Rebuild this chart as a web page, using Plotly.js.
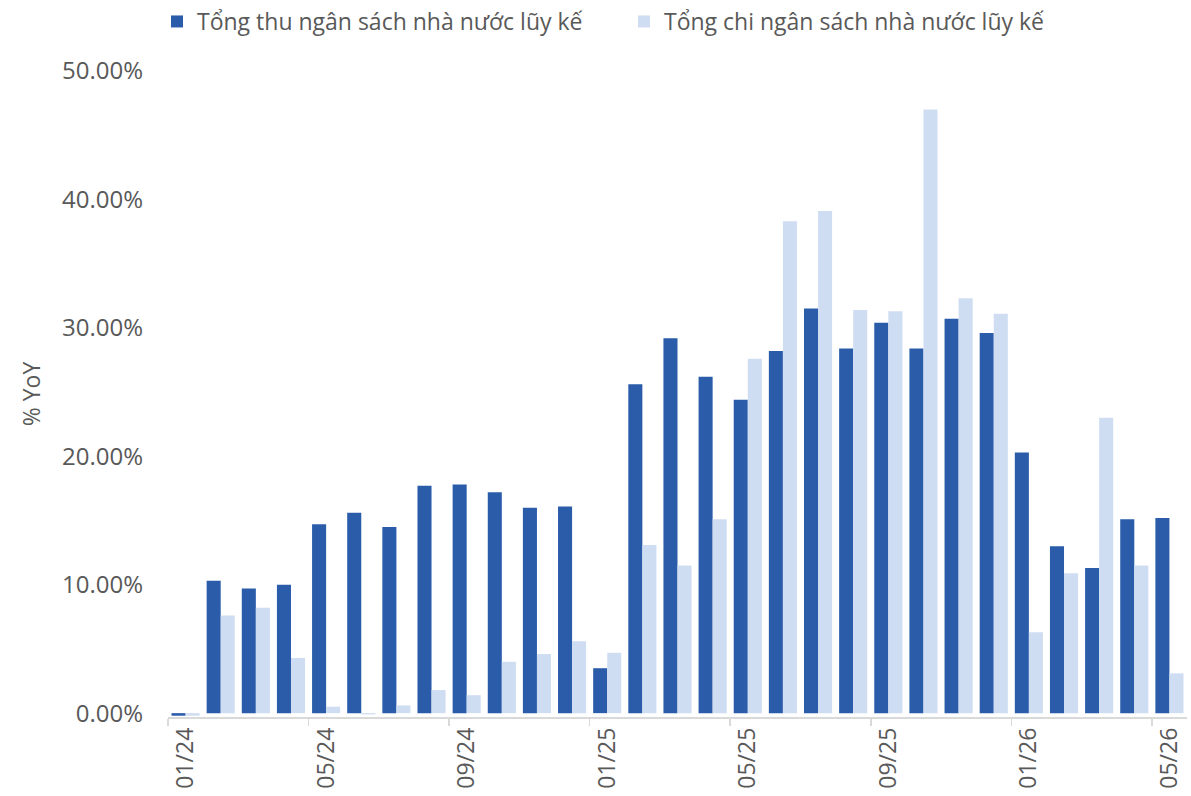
<!DOCTYPE html>
<html>
<head>
<meta charset="utf-8">
<script src="https://cdn.plot.ly/plotly-3.0.1.min.js"></script>
<style>html,body{margin:0;padding:0;background:#fff}#chart{width:1191px;height:796px}</style>
</head>
<body>
<div id="chart"></div>
<script>
const months = ["01/24","02/24","03/24","04/24","05/24","06/24","07/24","08/24","09/24","10/24","11/24","12/24",
  "01/25","02/25","03/25","04/25","05/25","06/25","07/25","08/25","09/25","10/25","11/25","12/25",
  "01/26","02/26","03/26","04/26","05/26"];
const revenueYoY = [-0.2,10.3,9.7,10.0,14.7,15.6,14.5,17.7,17.8,17.2,16.0,16.1,
  3.5,25.6,29.2,26.2,24.4,28.2,31.5,28.4,30.4,28.4,30.7,29.6,
  20.3,13.0,11.3,15.1,15.2];
const spendingYoY = [-0.2,7.6,8.2,4.3,0.5,-0.1,0.6,1.8,1.4,4.0,4.6,5.6,
  4.7,13.1,11.5,15.1,27.6,38.3,39.1,31.4,31.3,47.0,32.3,31.1,
  6.3,10.9,23.0,11.5,3.1];
const seriesNames = ["Tổng thu ngân sách nhà nước lũy kế","Tổng chi ngân sách nhà nước lũy kế"];
const labelEvery = 4;

const idx = months.map((m,i)=>i);
const tickIdx = idx.filter(i => i % labelEvery === 0);

const FONT = "Open Sans, Noto Sans, sans-serif";
const GREY = "#595959";

const traces = [
  {type:"bar", name:seriesNames[0], x:idx, y:revenueYoY.map(v=>v/100), text:months, textposition:"none",
   legend:"legend",
   marker:{color:"#2a5caa", line:{width:0}}, hovertemplate:"%{text}: %{y:.2%}<extra></extra>"},
  {type:"bar", name:seriesNames[1], x:idx, y:spendingYoY.map(v=>v/100), text:months, textposition:"none",
   legend:"legend2",
   marker:{color:"#cfddf2", line:{width:0}}, hovertemplate:"%{text}: %{y:.2%}<extra></extra>"}
];

const legendBase = {orientation:"h", xanchor:"left", xref:"container", y:1, yanchor:"top", yref:"container",
  font:{size:23, color:GREY, family:FONT}, bgcolor:"rgba(0,0,0,0)", borderwidth:0};

const layout = {
  width:1191, height:796,
  margin:{l:168, r:4, t:71, b:79, autoexpand:false},
  paper_bgcolor:"#fff", plot_bgcolor:"#fff",
  font:{family:FONT, color:GREY, size:22},
  barmode:"group", bargap:0.2, bargroupgap:0,
  showlegend:true,
  legend:Object.assign({}, legendBase, {x:157/1191}),
  legend2:Object.assign({}, legendBase, {x:624/1191}),
  xaxis:{
    type:"linear", range:[-0.5, months.length-0.5],
    tickmode:"array", tickvals:tickIdx, ticktext:tickIdx.map(i=>months[i]),
    tickangle:-90, ticks:"", showgrid:false, zeroline:false,
    showline:true, linecolor:"#d9d9d9", linewidth:1.5,
    tickfont:{size:23, color:GREY},
    minor:{tickmode:"linear", tick0:-0.5, dtick:labelEvery, ticks:"outside", ticklen:7, tickcolor:"#d9d9d9", tickwidth:1.5, showgrid:false}
  },
  yaxis:{
    range:[-0.003, 0.5], tickmode:"linear", tick0:0, dtick:0.1, tickformat:".2%",
    showgrid:false, zeroline:false, showline:false, ticks:"",
    ticklabelstandoff:24, tickfont:{size:24, color:GREY},
    title:{text:"% YoY", font:{size:23, color:GREY}, standoff:14}
  }
};

Plotly.newPlot("chart", traces, layout, {displayModeBar:false, staticPlot:true});
</script>
</body>
</html>
